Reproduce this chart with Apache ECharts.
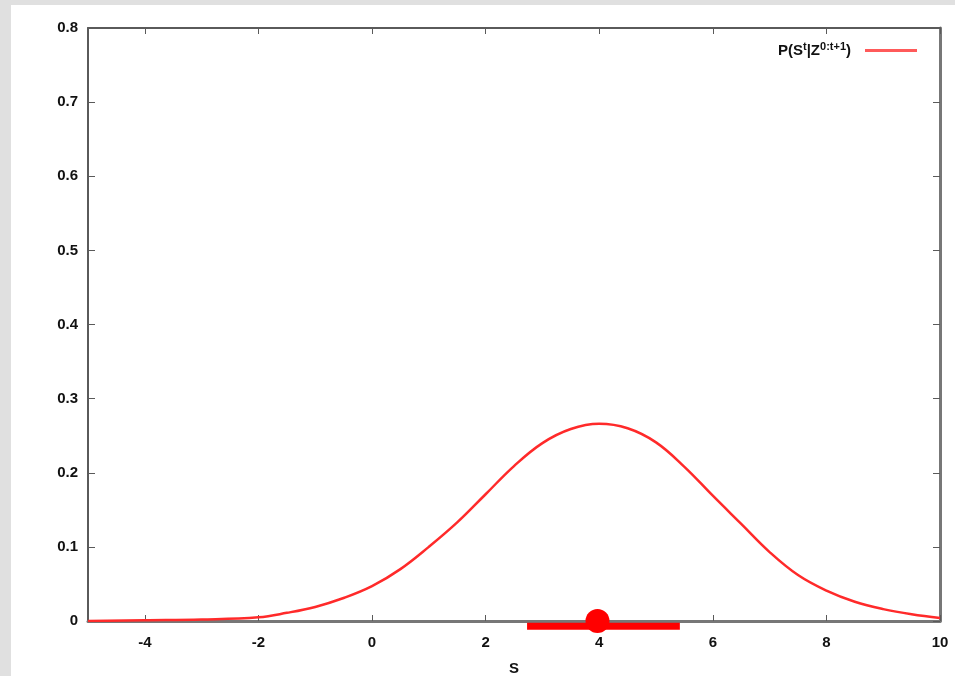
<!DOCTYPE html>
<html>
<head>
  <meta charset="UTF-8" />
  <title>P(S|Z)</title>
  <script src="https://cdn.jsdelivr.net/npm/echarts@6.0.0/dist/echarts.min.js"></script>
  <style>
    html, body { margin: 0; padding: 0; background: #e0e0e0; overflow: hidden; }
    #main { width: 955px; height: 676px; }
  </style>
</head>
<body>
  <div id="main"></div>
  <script>
    // curve
    const sValues = [-5, -4, -3, -2, -1.5, -1, -0.5, 0, 0.5, 1, 1.5, 2, 2.5, 3, 3.5, 4,
      4.5, 5, 5.5, 6, 6.5, 7, 7.5, 8, 8.5, 9, 9.5, 10];
    const probValues = [0.000, 0.001, 0.002, 0.005, 0.011, 0.019, 0.031, 0.047, 0.070, 0.100,
      0.133, 0.171, 0.209, 0.240, 0.259, 0.266, 0.260, 0.241, 0.208, 0.169, 0.131, 0.093,
      0.062, 0.041, 0.026, 0.016, 0.009, 0.004];

    // estimate marker and its interval
    const estimate = [3.97, 0];
    const interval = [2.73, 5.42];
    const intervalY = -0.007;

    const xTicks = [-4, -2, 0, 2, 4, 6, 8, 10];

    const chart = echarts.init(document.getElementById('main'));

    const axisColor = '#5a5a5a';
    const labelStyle = { color: '#111', fontSize: 15, fontWeight: 'bold', fontFamily: 'Liberation Sans' };

    const option = {
      backgroundColor: '#e0e0e0',
      animation: false,
      graphic: [
        { type: 'rect', z: -10, shape: { x: 11, y: 5, width: 944, height: 671 }, style: { fill: '#fff' } }
      ],
      grid: { left: 88, top: 28, right: 15, bottom: 55, outerBoundsMode: 'none', containLabel: false },
      legend: {
        data: ['P'],
        right: 33,
        top: 36,
        align: 'right',
        icon: 'rect',
        itemWidth: 52,
        itemHeight: 3,
        formatter: () => 'P(S{sup|t}|Z{sup|0:t+1})',
        textStyle: {
          color: '#111',
          fontSize: 15,
          fontWeight: 'bold',
          fontFamily: 'Liberation Sans',
          padding: [0, 9, 0, 0],
          rich: {
            sup: { fontSize: 11, fontWeight: 'bold', verticalAlign: 'top', padding: [0, 0, 8, 0], color: '#111' }
          }
        }
      },
      xAxis: [
        {
          type: 'value', min: -5, max: 10,
          name: 'S', nameLocation: 'middle', nameGap: 40,
          nameTextStyle: labelStyle,
          axisLine: { onZero: false, lineStyle: { color: '#777', width: 3 } },
          axisTick: { inside: true, length: 6, customValues: xTicks, lineStyle: { color: axisColor } },
          axisLabel: { customValues: xTicks, margin: 14, ...labelStyle },
          splitLine: { show: false }
        },
        {
          type: 'value', min: -5, max: 10, position: 'top',
          axisLine: { onZero: false, lineStyle: { color: axisColor, width: 2 } },
          axisTick: { inside: true, length: 6, customValues: xTicks, lineStyle: { color: axisColor } },
          axisLabel: { show: false },
          splitLine: { show: false }
        }
      ],
      yAxis: [
        {
          type: 'value', min: 0, max: 0.8, interval: 0.1, position: 'left',
          axisLine: { show: true, onZero: false, lineStyle: { color: axisColor, width: 2 } },
          axisTick: { show: true, inside: true, length: 7, lineStyle: { color: axisColor } },
          axisLabel: { margin: 10, formatter: v => (v === 0 ? '0' : v.toFixed(1)), ...labelStyle },
          splitLine: { show: false }
        },
        {
          type: 'value', min: 0, max: 0.8, interval: 0.1, position: 'right',
          axisLine: { show: true, onZero: false, lineStyle: { color: '#777', width: 3 } },
          axisTick: { show: true, inside: true, length: 7, lineStyle: { color: axisColor } },
          axisLabel: { show: false },
          splitLine: { show: false }
        }
      ],
      series: [
        {
          name: 'P',
          type: 'line',
          data: sValues.map((s, i) => [s, probValues[i]]),
          smooth: 0.4,
          showSymbol: false,
          lineStyle: { color: '#ff2a2a', width: 2.5 },
          itemStyle: { color: '#ff5a5a' },
          z: 3
        },
        {
          name: 'interval',
          type: 'line',
          data: [[interval[0], intervalY], [interval[1], intervalY]],
          clip: false,
          showSymbol: false,
          lineStyle: { color: '#ff0000', width: 7 },
          z: 4
        },
        {
          name: 'estimate',
          type: 'scatter',
          data: [estimate],
          clip: false,
          symbolSize: 24,
          itemStyle: { color: '#ff0000', opacity: 1 },
          z: 5
        }
      ]
    };

    chart.setOption(option);
  </script>
</body>
</html>
